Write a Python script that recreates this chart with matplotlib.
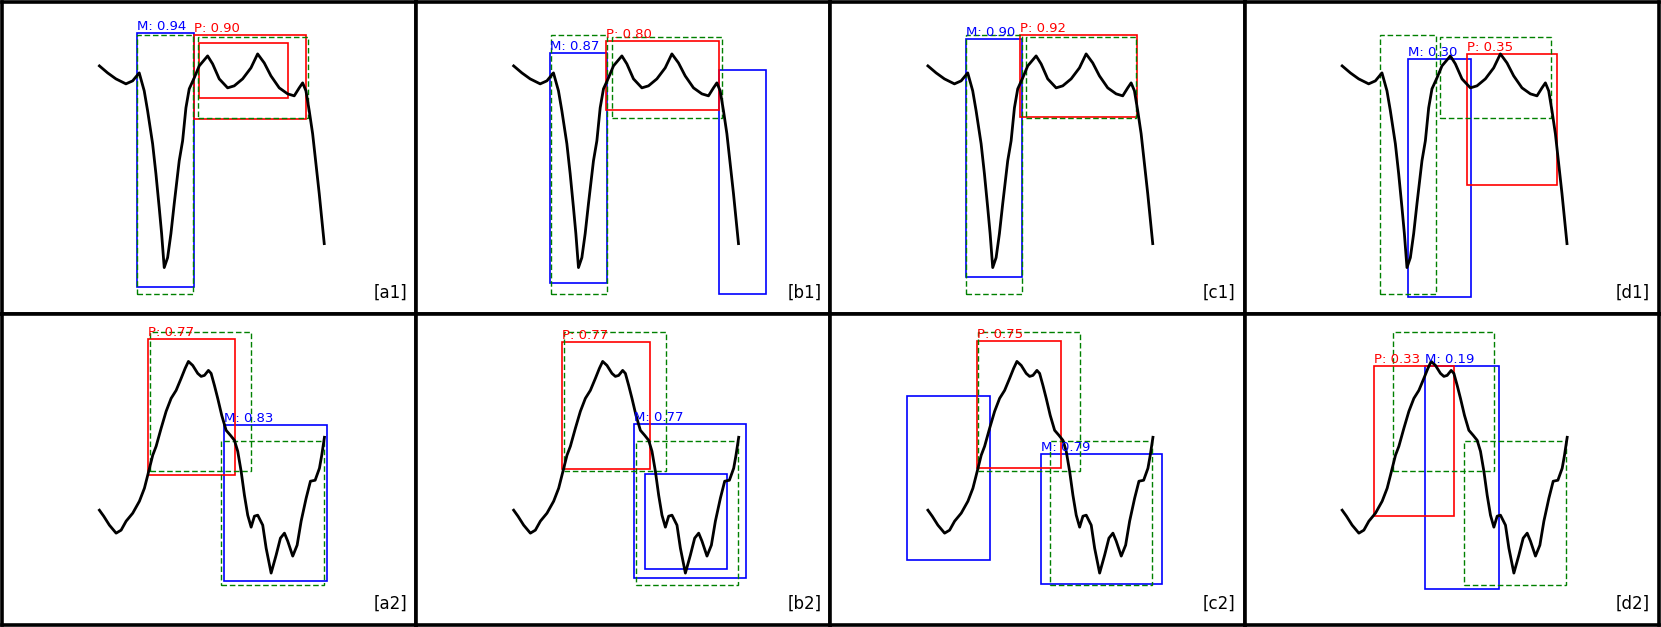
import matplotlib
matplotlib.use("Agg")
import matplotlib.pyplot as plt
from matplotlib.patches import Rectangle

# signal shown in the top row (time step, value)
top_t = [0, 8.2, 16.5, 26.5, 33.2, 39.8, 44.8, 48.2, 53.2, 56.5, 59.8, 62.2, 64.8,
         68.2, 71.5, 74.8, 79.8, 83.2, 86.5, 89.8, 94.8, 99.8, 108.2, 113.2, 119.8,
         128.2, 134.8, 143.2, 151.5, 158.2, 164.8, 171.5, 179.8, 188.2, 194.8, 199.8,
         203.2, 206.5, 209.8, 213.2, 216.5, 219.8, 222.2, 224.8]
top_v = [2.48, 2.41, 2.35, 2.30, 2.33, 2.41, 2.23, 2.03, 1.70, 1.40, 1.06, 0.80, 0.46,
         0.56, 0.80, 1.10, 1.53, 1.73, 2.06, 2.25, 2.36, 2.48, 2.58, 2.50, 2.35,
         2.26, 2.28, 2.35, 2.46, 2.60, 2.51, 2.38, 2.26, 2.20, 2.18, 2.26,
         2.31, 2.23, 2.03, 1.80, 1.50, 1.20, 0.96, 0.70]

# signal shown in the bottom row
bot_t = [0, 4.3, 10, 16.7, 21.7, 26.7, 33.3, 40, 45, 48.3, 53.3, 56.7, 61.7, 66.7,
         71.7, 76.7, 81.7, 85.7, 89, 93.3, 98.3, 101.7, 105, 109, 111.7, 115, 118.3,
         122.3, 126.7, 131, 135, 138.3, 141.7, 145, 148.3, 151.7, 155, 158.3, 163.3,
         166.7, 171.7, 176.7, 181, 185, 188.3, 193.3, 197.7, 201.7, 206.7, 211,
         215.7, 220, 222.3, 225]
bot_v = [1.15, 1.09, 1.00, 0.92, 0.95, 1.04, 1.12, 1.24, 1.37, 1.50, 1.70, 1.79, 1.97, 2.14,
         2.27, 2.35, 2.47, 2.57, 2.64, 2.60, 2.52, 2.49, 2.50, 2.55, 2.52, 2.40, 2.27,
         2.10, 1.95, 1.90, 1.85, 1.74, 1.54, 1.30, 1.10, 0.98, 1.09, 1.10, 1.00,
         0.77, 0.52, 0.70, 0.87, 0.92, 0.84, 0.69, 0.80, 1.04, 1.27, 1.44,
         1.45, 1.57, 1.70, 1.88]

# ground truth boxes (t0, t1, v0, v1)
gt_top = [(37.6, 93.8, 0.20, 2.79), (98.2, 208.5, 1.96, 2.77)]
gt_bot = [(50.5, 152.0, 1.54, 2.93), (122.0, 224.3, 0.40, 1.84)]

panel_names = [["a1", "b1", "c1", "d1"], ["a2", "b2", "c2", "d2"]]

# predicted boxes (t0, t1, v0, v1, score label or None)
m_boxes = {
    "a1": [(37.6, 94.3, 0.27, 2.81, "0.94")],
    "b1": [(36.7, 93.3, 0.31, 2.61, "0.87"), (205.0, 252.3, 0.20, 2.44, None)],
    "c1": [(38.2, 94.2, 0.37, 2.75, "0.90")],
    "d1": [(65.7, 129.0, 0.17, 2.55, "0.30")],
    "a2": [(124.3, 227.7, 0.44, 2.00, "0.83")],
    "b2": [(120.5, 232.8, 0.47, 2.01, "0.77"), (131.1, 213.7, 0.56, 1.51, None)],
    "c2": [(-21.3, 62.0, 0.65, 2.29, None), (113.3, 233.7, 0.41, 1.71, "0.79")],
    "d2": [(82.7, 156.7, 0.36, 2.59, "0.19")],
}
p_boxes = {
    "a1": [(95.0, 206.6, 1.95, 2.79, "0.90"), (100.0, 189.0, 2.16, 2.71, None)],
    "b1": [(92.7, 205.0, 2.04, 2.73, "0.80")],
    "c1": [(92.2, 208.8, 1.97, 2.79, "0.92")],
    "d1": [(125.0, 215.0, 1.29, 2.60, "0.35")],
    "a2": [(48.3, 136.0, 1.50, 2.86, "0.77")],
    "b2": [(48.5, 136.4, 1.56, 2.83, "0.77")],
    "c2": [(49.3, 132.7, 1.57, 2.84, "0.75")],
    "d2": [(31.7, 111.7, 1.09, 2.59, "0.33")],
}


def draw_boxes(ax, boxes, color, prefix):
    for t0, t1, v0, v1, score in boxes:
        ax.add_patch(Rectangle((t0, v0), t1 - t0, v1 - v0, fill=False,
                               edgecolor=color, lw=1.2))
        if score is not None:
            ax.text(t0, v1, f"{prefix}: {score}", color=color, fontsize=9.5,
                    ha="left", va="bottom")


fig = plt.figure(figsize=(16.61, 6.27), dpi=100)
axes = fig.subplots(2, 4, gridspec_kw=dict(left=2 / 1661, right=1 - 2 / 1661,
                                           bottom=2 / 627, top=1 - 2 / 627,
                                           wspace=0, hspace=0))

for row in range(2):
    t, v = (top_t, top_v) if row == 0 else (bot_t, bot_v)
    gt = gt_top if row == 0 else gt_bot
    for col in range(4):
        ax = axes[row, col]
        name = panel_names[row][col]
        ax.plot(t, v, color="black", lw=2)

        draw_boxes(ax, m_boxes[name], "blue", "M")
        draw_boxes(ax, p_boxes[name], "red", "P")
        for t0, t1, v0, v1 in gt:
            ax.add_patch(Rectangle((t0, v0), t1 - t0, v1 - v0, fill=False,
                                   edgecolor="green", lw=1.0, ls=(0, (4, 2))))

        ax.text(0.978, 0.038, f"[{name}]", transform=ax.transAxes, fontsize=12,
                ha="right", va="bottom")
        ax.set_xlim(-97.4, 316.8)
        ax.set_ylim(0.0, 3.12)
        ax.set_xticks([])
        ax.set_yticks([])
        for sp in ax.spines.values():
            sp.set_linewidth(2.6)
            sp.set_color("black")

fig.savefig("out.png", dpi=100)
